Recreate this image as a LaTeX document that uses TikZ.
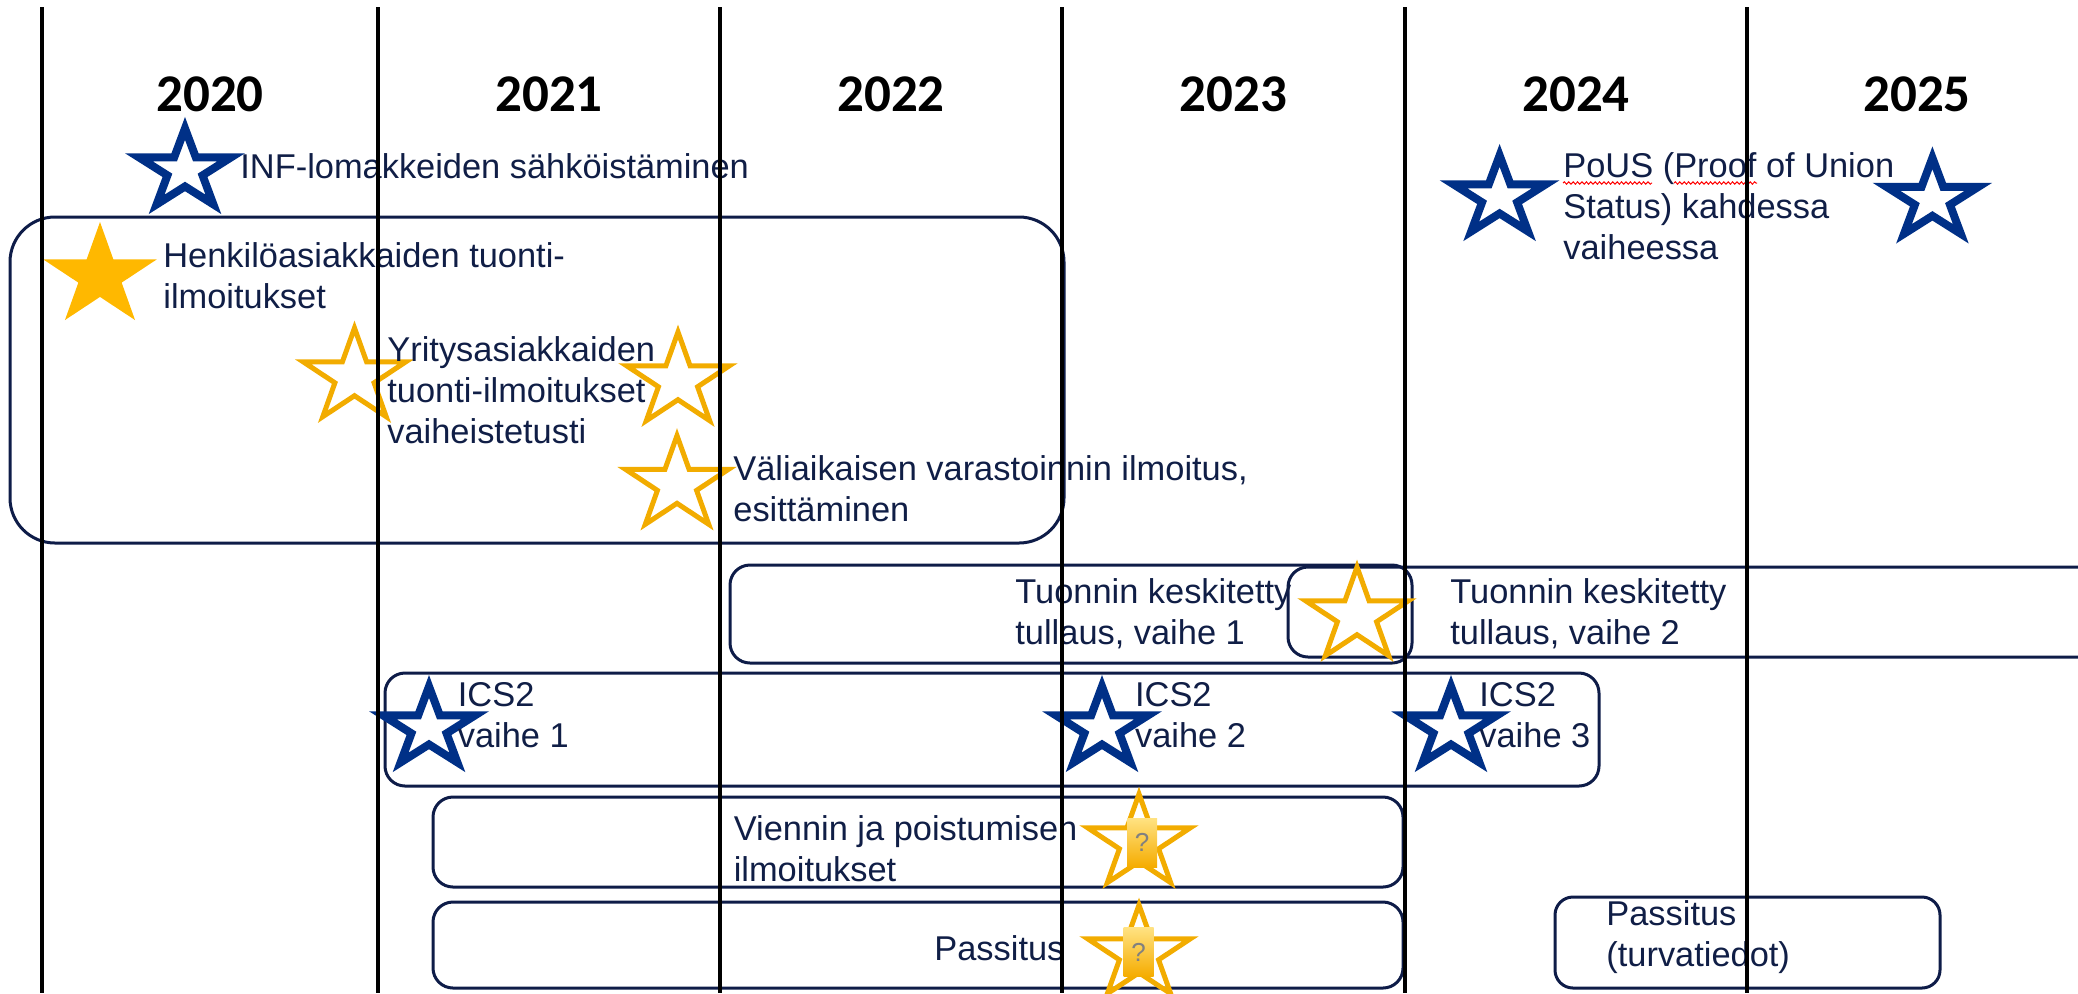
\documentclass[tikz,border=0pt]{standalone}
\usepackage{fontspec}
\setmainfont{Liberation Sans}
\newfontfamily\yearfont{Carlito}
\usetikzlibrary{shapes.geometric,decorations.pathmorphing}
\definecolor{starblue}{RGB}{0,48,135}
\definecolor{gold}{RGB}{255,184,0}
\definecolor{goldline}{RGB}{242,172,0}
\definecolor{navytext}{RGB}{16,30,70}
\definecolor{boxline}{RGB}{14,28,72}
\definecolor{qtop}{RGB}{255,226,130}
\definecolor{qbot}{RGB}{245,172,0}
\definecolor{qmark}{RGB}{128,128,128}
\newcommand\putstar[5]{%
  \begin{scope}[shift={(#3,#4)},xscale=#5]
    \node[#1,transform shape] (#2) at (0,0) {};
  \end{scope}}
\begin{document}
\begin{tikzpicture}[x=0.5pt,y=-0.5pt,line join=miter,
  yr/.style={font=\yearfont\bfseries\fontsize{26.5}{30}\selectfont,text=black,anchor=base,inner sep=0pt},
  txt/.style={font=\fontsize{17.2}{20.5}\selectfont,text=navytext,align=left,anchor=north west,inner sep=0pt},
  box/.style={draw=boxline,line width=1.5pt},
  gridline/.style={line width=2pt,black},
  starbase/.style={star,star points=5,star point ratio=2.618,inner sep=0pt,outer sep=0pt},
  bstar/.style={starbase,draw=starblue,line width=4pt,minimum size=42pt},
  ostar/.style={starbase,draw=goldline,line width=2.5pt,minimum size=49pt},
  fstar/.style={starbase,fill=gold,minimum size=54.2pt},
  qbox/.style={rectangle,top color=qtop,bottom color=qbot,minimum width=15pt,minimum height=24.5pt,inner sep=0pt,text=qmark,font=\fontsize{13}{13}\selectfont},
  wavy/.style={red,line width=0.5pt,decorate,decoration={snake,amplitude=0.6pt,segment length=2.2pt}}
]
\useasboundingbox (0,0) rectangle (2078,993);
\clip (0,0) rectangle (2078,993);

% years
\node[yr] (y2020) at (210,111.7) {2020};
\node[yr] (y2021) at (549,111.7) {2021};
\node[yr] (y2022) at (891,111.7) {2022};
\node[yr] (y2023) at (1233.5,111.7) {2023};
\node[yr] (y2024) at (1576,111.7) {2024};
\node[yr] (y2025) at (1917,111.7) {2025};

% boxes
\draw[box,rounded corners=22.5pt] (10,217) rectangle (1064,543);
\draw[box,rounded corners=10pt] (730,565) rectangle (1412,663);
\draw[box,rounded corners=10pt] (1288,567) rectangle (2120,657);
\draw[box,rounded corners=10pt] (385,673) rectangle (1599,786);
\draw[box,rounded corners=10pt] (433,797) rectangle (1403,887);
\draw[box,rounded corners=10pt] (433,902) rectangle (1403,988);
\draw[box,rounded corners=9pt] (1555,897) rectangle (1940,988);

% stars
\putstar{bstar}{sInf}{185}{170.4}{1.15}
\putstar{bstar}{sPous1}{1499.6}{197.4}{1.15}
\putstar{bstar}{sPous2}{1932.4}{199.8}{1.15}
\putstar{bstar}{sIcs1}{429}{728.4}{1.15}
\putstar{bstar}{sIcs2}{1102}{728.4}{1.15}
\putstar{bstar}{sIcs3}{1451}{728.4}{1.15}
\putstar{fstar}{sHenk}{100}{276.2}{1.1}
\putstar{ostar}{sYr1}{354.5}{377}{1.1}
\putstar{ostar}{sYr2}{678}{381}{1.1}
\putstar{ostar}{sVal}{677}{484.6}{1.1}
\putstar{ostar}{sTuo}{1357}{616}{1.1}
\putstar{ostar}{sVie}{1139}{843}{1.1}
\putstar{ostar}{sPas}{1139}{954}{1.1}

% question marks
\node[qbox] (q1) at (1142,842.5) {?};
\node[qbox] (q2) at (1138.5,952) {?};

% texts
\node[txt] (tInf) at (240,149.8) {\strut INF-lomakkeiden sähköistäminen};
\node[txt] (tHenk) at (163,238.3) {\strut Henkilöasiakkaiden tuonti-\\ilmoitukset};
\node[txt] (tYr) at (387,332.3) {\strut Yritysasiakkaiden\\tuonti-ilmoitukset\\vaiheistetusti};
\node[txt] (tVal) at (733,451.3) {\strut Väliaikaisen varastoinnin ilmoitus,\\esittäminen};
\node[txt] (tPous) at (1563,148.3) {\strut PoUS (Proof of Union\\Status) kahdessa\\vaiheessa};
\node[txt] (tTuo1) at (1015,574.3) {\strut Tuonnin keskitetty\\tullaus, vaihe 1};
\node[txt] (tTuo2) at (1450,574.3) {\strut Tuonnin keskitetty\\tullaus, vaihe 2};
\node[txt] (tIcs1) at (457.5,677) {\strut ICS2\\vaihe 1};
\node[txt] (tIcs2) at (1134.7,677) {\strut ICS2\\vaihe 2};
\node[txt] (tIcs3) at (1479,677) {\strut ICS2\\vaihe 3};
\node[txt] (tVie) at (733.4,811.3) {\strut Viennin ja poistumisen\\ilmoitukset};
\node[txt] (tPas) at (934,931.3) {\strut Passitus};
\node[txt] (tPasT) at (1606,896.3) {\strut Passitus\\(turvatiedot)};

% spell-check underlines
\draw[wavy] (1563,183) -- (1652,183);
\draw[wavy] (1674,183) -- (1757,183);

% grid lines
\foreach \gx in {42,378,720,1062,1405,1747}
  \draw[gridline] (\gx,7) -- (\gx,993);
\end{tikzpicture}
\end{document}
